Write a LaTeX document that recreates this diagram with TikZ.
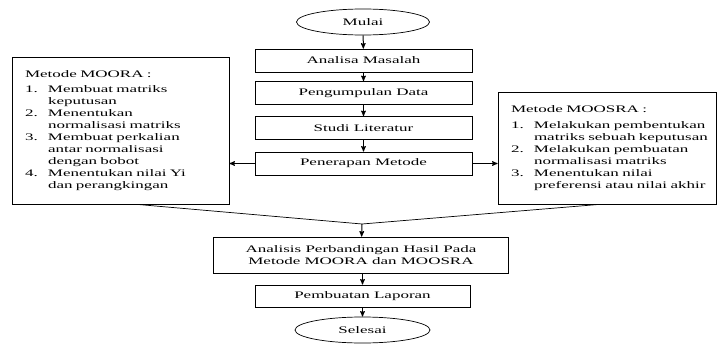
\documentclass[tikz,border=0pt]{standalone}
\usepackage{fontspec}
\setmainfont[FakeStretch=1.7]{Liberation Serif}
\usepackage{tikz}
\usetikzlibrary{shapes}
\usetikzlibrary{arrows}
\tikzset{
	kotak/.style={rectangle,draw,minimum width=217pt,minimum height=23pt,inner sep=2pt,
		font=\fontsize{10}{12}\selectfont},
	oval/.style={ellipse,draw,minimum width=133pt,minimum height=26pt,inner sep=0pt,
		font=\fontsize{10}{12}\selectfont},
	metode/.style={rectangle,draw,align=left,inner xsep=13pt,inner ysep=0pt,
		font=\fontsize{10}{12}\selectfont},
	panah/.style={line width=1pt}
}
\newcommand{\nomor}[2]{\makebox[23pt][l]{#1}\mbox{#2}}
\newcommand{\lanjut}[1]{\hspace*{23pt}\mbox{#1}}

\begin{document}
\begin{tikzpicture}[->,>=stealth',x=1pt,y=-1pt,line width=0.7pt]
	\useasboundingbox (0,0) rectangle (718,343);
	% alur utama
	\node [oval] (mulai) at (363,22) {Mulai};
	\node [kotak] (analisa) at (363.5,60.5) {Analisa Masalah};
	\node [kotak] (kumpul) at (363.5,93) {Pengumpulan Data};
	\node [kotak] (studi) at (363.5,128) {Studi Literatur};
	\node [kotak] (terap) at (363.5,163.5) {Penerapan Metode};
	% kedua metode
	\node [metode,text width=191pt,minimum height=147pt] (moora) at (120.5,130.5) {Metode MOORA :\\[3pt]
		\nomor{1.}{Membuat matriks}\\ \lanjut{keputusan}\\
		\nomor{2.}{Menentukan}\\ \lanjut{normalisasi matriks}\\
		\nomor{3.}{Membuat perkalian}\\ \lanjut{antar normalisasi}\\ \lanjut{dengan bobot}\\
		\nomor{4.}{Menentukan nilai Yi}\\ \lanjut{dan perangkingan}\\[4pt]};
	\node [metode,text width=192pt,minimum height=112pt] (moosra) at (607,148) {Metode MOOSRA :\\[4pt]
		\nomor{1.}{Melakukan pembentukan}\\ \lanjut{matriks sebuah keputusan}\\
		\nomor{2.}{Melakukan pembuatan}\\ \lanjut{normalisasi matriks}\\
		\nomor{3.}{Menentukan nilai}\\ \lanjut{preferensi atau nilai akhir}};
	\coordinate (temu) at (362,224);
	\node [kotak,minimum width=295pt,minimum height=36pt,align=center] (banding) at (361,255)
		{Analisis Perbandingan Hasil Pada\\ Metode MOORA dan MOOSRA};
	\node [kotak,minimum width=215pt,minimum height=22pt] (lapor) at (362.5,296) {Pembuatan Laporan};
	\node [oval,minimum width=135pt] (selesai) at (362.5,330) {Selesai};

	\draw [panah] (mulai) -- (analisa);
	\draw [panah] (analisa) -- (kumpul);
	\draw [panah] (kumpul) -- (studi);
	\draw [panah] (studi) -- (terap);
	\draw [panah] (terap.west) -- (terap.west -| moora.east);
	\draw [panah] (terap.east) -- (terap.east -| moosra.west);
	\draw [-] ([xshift=16pt]moora.south) -- (temu);
	\draw [-] ([xshift=-7pt]moosra.south) -- (temu);
	\draw [panah] (temu) -- (banding);
	\draw [panah] (banding.south -| lapor.north) -- (lapor);
	\draw [panah] (lapor) -- (selesai);
\end{tikzpicture}
\end{document}
